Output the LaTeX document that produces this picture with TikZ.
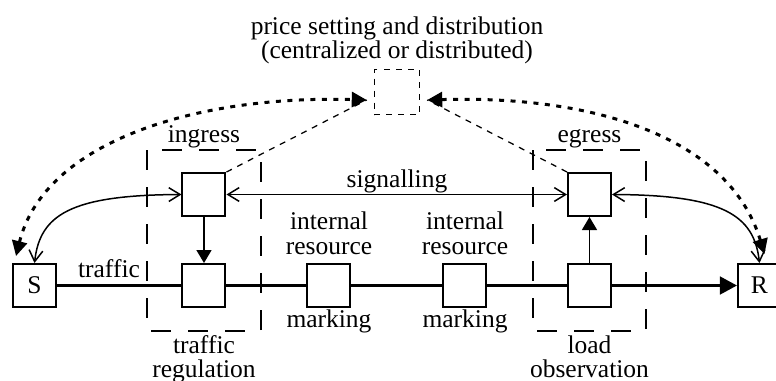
\documentclass[tikz,border=0pt]{standalone}
\usepackage{fontspec}
\setmainfont{Liberation Serif}
\usetikzlibrary{arrows.meta}

\begin{document}
\begin{tikzpicture}[x=0.4pt,y=-0.4pt,
    box/.style={draw,line width=0.8pt,fill=white,minimum size=17.2pt,inner sep=0pt},
    lbl/.style={inner sep=0pt,align=center,font=\fontsize{10.2}{9.8}\selectfont},
    mainline/.style={line width=1.2pt,-{Triangle[length=6.8pt,width=7pt]}},
    ctrl/.style={line width=0.6pt,-{Triangle[length=5.2pt,width=6pt]}},
    sig/.style={line width=0.6pt,{Straight Barb[length=4.5pt,width=5.5pt]}-{Straight Barb[length=4.5pt,width=5.5pt]}},
    pricearrow/.style={line width=1.2pt,dash pattern=on 2pt off 2.6pt,{Triangle[length=6pt,width=6pt]}-{Triangle[length=6pt,width=6pt]}},
    reportline/.style={line width=0.5pt,dash pattern=on 2.4pt off 2.4pt},
    edgebox/.style={draw,line width=0.8pt,dash pattern=on 8pt off 6.8pt}]
      \useasboundingbox (0,0) rectangle (776,381);
      % ingress / egress
      \draw[edgebox] (147,150) rectangle (261,331);
      \draw[edgebox] (533,150) rectangle (646,331);
      \node[box,font=\fontsize{10.2}{12}\selectfont] (S) at (34.5,285.5) {S};
      \node[box] (reg) at (204,285.5) {};
      \node[box] (in) at (204,194.5) {};
      \node[box] (mk1) at (329,285.5) {};
      \node[box] (mk2) at (465,285.5) {};
      \node[box] (obs) at (589.5,285.5) {};
      \node[box] (out) at (589.5,194.5) {};
      \node[box,font=\fontsize{10.2}{12}\selectfont] (R) at (759.5,285.5) {R};
      \node[draw,line width=0.6pt,dash pattern=on 2.4pt off 2.4pt,minimum size=18pt,inner sep=0pt] (price) at (397,92) {};
      % traffic path
      \draw[mainline] (S) -- (reg) -- (mk1) -- (mk2) -- (obs) -- (R);
      \draw[ctrl] (in) -- (reg);
      \draw[ctrl] (obs) -- (out);
      % signalling
      \draw[sig] (in) -- (out);
      \draw[sig] (in.west) .. controls (70,195) and (40,215) .. (S.north);
      \draw[sig] (out.east) .. controls (723,195) and (754,215) .. (R.north);
      % price distribution
      \coordinate (pL) at ([shift={(-7,8)}]price.west);
      \coordinate (pR) at ([shift={(7,8)}]price.east);
      \coordinate (sL) at ([shift={(4,-7)}]S.north west);
      \coordinate (rR) at ([shift={(5,-9)}]R.north);
      \draw[pricearrow] (sL) .. controls (45,140) and (200,95) .. (pL);
      \draw[pricearrow] (rR) .. controls (730,140) and (600,95) .. (pR);
      \draw[reportline] (in.north east) -- (pL);
      \draw[reportline] (out.north west) -- (pR);
      % labels
      \node[lbl,anchor=north] (ptxt) at (397,16) {price setting and distribution\\(centralized or distributed)};
      \node[lbl,anchor=base] (ingtxt) at (204,142) {ingress};
      \node[lbl,anchor=base] (egtxt) at (589.5,142) {egress};
      \node[lbl,anchor=base] (sigtxt) at (397,187) {signalling};
      \node[lbl,anchor=base] (trtxt) at (109,277) {traffic};
      \node[lbl,anchor=south] (ir1) at (329,255) {internal\\resource};
      \node[lbl,anchor=south] (ir2) at (465,255) {internal\\resource};
      \node[lbl,anchor=base] (mk1txt) at (329,327) {marking};
      \node[lbl,anchor=base] (mk2txt) at (465,327) {marking};
      \node[lbl,anchor=north] (regtxt) at (204,335) {traffic\\regulation};
      \node[lbl,anchor=north] (obstxt) at (589.5,335) {load\\observation};
    \end{tikzpicture}
\end{document}
